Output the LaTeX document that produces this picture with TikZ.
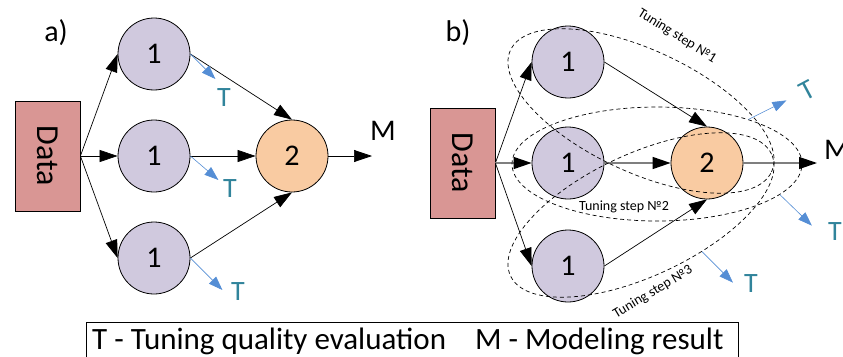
\documentclass[tikz,border=0pt]{standalone}
\usepackage{fontspec}
\setmainfont{Carlito}
\usetikzlibrary{arrows.meta,shapes.geometric}
\definecolor{lav}{HTML}{D0C9DE}
\definecolor{peach}{HTML}{F9CBA2}
\definecolor{datared}{HTML}{D99694}
\definecolor{tblue}{HTML}{558ED5}
\definecolor{tteal}{HTML}{31849B}
\definecolor{flowgray}{HTML}{7F7F7F}
\begin{document}
\begin{tikzpicture}[x=1pt,y=-1pt,
  stage/.style={circle, draw, line width=0.8pt, fill=lav, minimum size=72pt, inner sep=0pt, font=\fontsize{30}{34}\selectfont},
  combiner/.style={stage, fill=peach},
  datablock/.style={rectangle, draw, line width=0.8pt, fill=datared, minimum width=65pt, minimum height=110pt, inner sep=0pt},
  flow/.style={line width=0.7pt, -{Triangle[length=18pt,width=12pt]}},
  mainflow/.style={draw=flowgray, line width=1.3pt, -{Triangle[length=18pt,width=12pt,color=black]}},
  tune/.style={draw=tblue, line width=0.6pt, -{Triangle[length=14pt,width=10pt,color=tblue]}},
  tlabel/.style={text=tteal, font=\fontsize{28}{32}\selectfont, inner sep=0pt},
  biglabel/.style={font=\fontsize{30}{34}\selectfont, inner sep=0pt},
  loop/.style={ellipse, draw, dash pattern=on 4pt off 3pt, line width=0.7pt, inner sep=0pt},
  looplabel/.style={font=\fontsize{14}{16}\selectfont, inner sep=0pt}]

\useasboundingbox (0,0) rectangle (843,356);

% ---------- panel a ----------
\node[biglabel] (la) at (56,33) {a)};
\node[datablock] (da) at (47.5,156) {\rotatebox{-90}{\fontsize{32}{34}\selectfont Data}};
\node[stage] (a1) at (154,54) {1};
\node[stage] (a2) at (154,156) {1};
\node[stage] (a3) at (154,258) {1};
\node[combiner] (a4) at (292,156) {2};
\coordinate (ea) at (372,156);
\node[biglabel] (ma) at (383,131) {M};

\draw[flow] (da.east) -- (a1.west);
\draw[flow] (da.east) -- (a2.west);
\draw[flow] (da.east) -- (a3.west);
\draw[flow] (a1.east) -- (a4.north);
\draw[flow] (a2.east) -- (a4.west);
\draw[flow] (a3.east) -- (a4.south);
\draw[flow] (a4.east) -- (ea);

\draw[tune] (a1.east) -- ++(25,25);
\draw[tune] (a2.east) -- ++(28,24);
\draw[tune] (a3.east) -- ++(32,32);
\node[tlabel] (ta1) at (224,98) {T};
\node[tlabel] (ta2) at (230,189) {T};
\node[tlabel] (ta3) at (238,292) {T};

% ---------- panel b ----------
\node[biglabel] (lb) at (458,33) {b)};
\node[datablock] (db) at (462.5,163) {\rotatebox{-90}{\fontsize{32}{34}\selectfont Data}};
\node[stage] (b1) at (568,62) {1};
\node[stage] (b2) at (568,163) {1};
\node[stage] (b3) at (568,266) {1};
\node[combiner] (b4) at (707,163) {2};
\coordinate (eb) at (817,163);
\node[biglabel, anchor=west] (mb) at (824,150) {M};

\draw[flow] (db.east) -- (b1.west);
\draw[mainflow] (db.east) -- (b2.west);
\draw[flow] (db.east) -- (b3.west);
\draw[flow] (b1.east) -- (b4.north);
\draw[mainflow] (b2.east) -- (b4.west);
\draw[flow] (b3.east) -- (b4.south);
\draw[mainflow] (b4.east) -- (eb);

% tuning steps
\node[loop, minimum width=288pt, minimum height=122pt, rotate=-25] (s1) at (641,111) {};
\node[loop, minimum width=290pt, minimum height=114pt] (s2) at (657,164) {};
\node[loop, minimum width=288pt, minimum height=122pt, rotate=25] (s3) at (641,215) {};
\node[looplabel, rotate=-32] (l1) at (677,36) {Tuning step №1};
\node[looplabel] (l2) at (624,207) {Tuning step №2};
\node[looplabel, rotate=31] (l3) at (653,292) {Tuning step №3};

\draw[tune] (s2.26) -- ++(38,-19);
\draw[tune] (s2.-14) -- ++(32,31);
\draw[tune] (s3.-56) -- ++(31,31);
\node[tlabel, rotate=28] (tb1) at (807,90) {T};
\node[tlabel] (tb2) at (835,232) {T};
\node[tlabel] (tb3) at (751,284) {T};

% ---------- legend ----------
\node[draw, line width=0.6pt, anchor=north west, minimum width=652pt, minimum height=42pt,
      inner sep=0pt] (legend) at (86,322) {};
\node[anchor=west, inner sep=0pt, font=\fontsize{31}{35}\selectfont] (legendtext) at (92,341)
  {T - Tuning quality evaluation\hspace{22pt} M - Modeling result};
\end{tikzpicture}
\end{document}
